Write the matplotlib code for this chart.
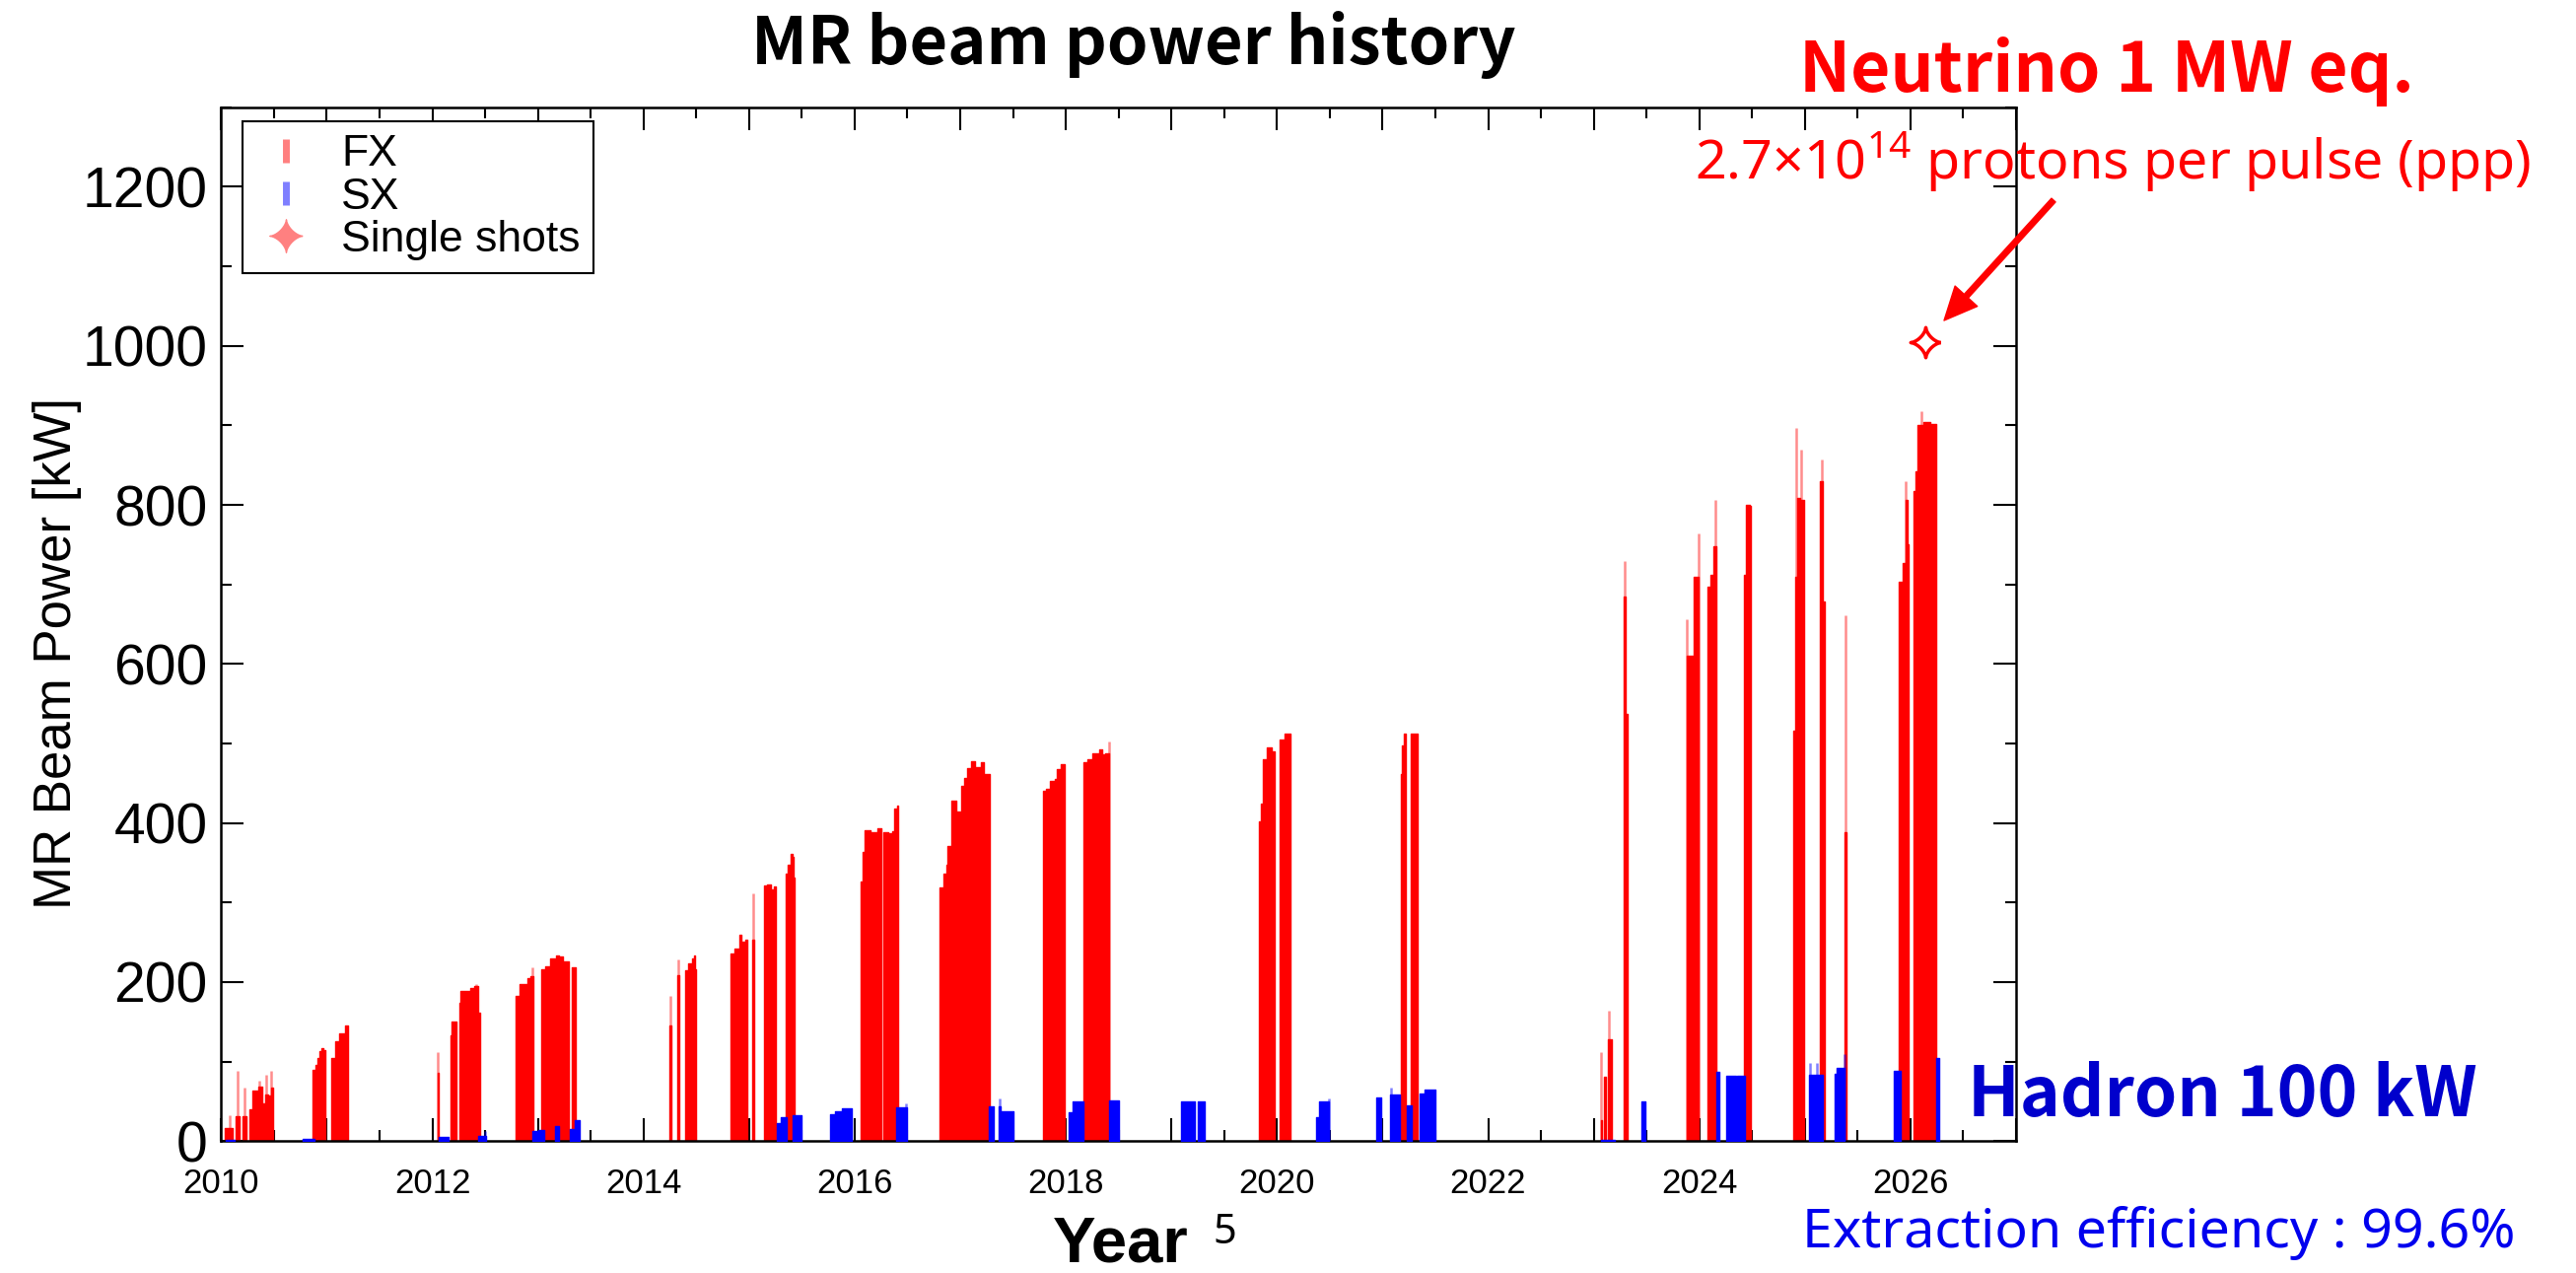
import matplotlib
matplotlib.use('Agg')
import matplotlib.pyplot as plt
from matplotlib.lines import Line2D
from matplotlib.ticker import MultipleLocator, FuncFormatter
import numpy as np

W, H = 2613, 1291

# FX runs: step edges [year] (last entry = end of run) and levels [kW]
fx_times = [
    [2010.038, 2010.110], [2010.140, 2010.172], [2010.200, 2010.240],
    [2010.270, 2010.300, 2010.350, 2010.385, 2010.420, 2010.445, 2010.460, 2010.475, 2010.490],
    [2010.868, 2010.893, 2010.909, 2010.931, 2010.949, 2010.971, 2010.987],
    [2011.043, 2011.080, 2011.117, 2011.173, 2011.198],
    [2012.050, 2012.062],
    [2012.169, 2012.184, 2012.231],
    [2012.256, 2012.269, 2012.356, 2012.400, 2012.434, 2012.449],
    [2012.791, 2012.822, 2012.900, 2012.931, 2012.953],
    [2013.034, 2013.071, 2013.118, 2013.160],
    [2013.168, 2013.200, 2013.240, 2013.289],
    [2013.320, 2013.358],
    [2014.248, 2014.263], [2014.316, 2014.341],
    [2014.394, 2014.425, 2014.456, 2014.478, 2014.490, 2014.497],
    [2014.829, 2014.860, 2014.907, 2014.923, 2014.969, 2014.985],
    [2015.032, 2015.047],
    [2015.140, 2015.172, 2015.203, 2015.234, 2015.250, 2015.256],
    [2015.343, 2015.365, 2015.390, 2015.411, 2015.420, 2015.430],
    [2016.058, 2016.074, 2016.090, 2016.152, 2016.214, 2016.257],
    [2016.276, 2016.323, 2016.354, 2016.376, 2016.401, 2016.416],
    [2016.805, 2016.842, 2016.867, 2016.883, 2016.914, 2016.967, 2016.998],
    [2017.007, 2017.039, 2017.070, 2017.101, 2017.140, 2017.195, 2017.226, 2017.282],
    [2017.780, 2017.811, 2017.848, 2017.895, 2017.917, 2017.957, 2017.988],
    [2018.165, 2018.205, 2018.252, 2018.314, 2018.345, 2018.375, 2018.414],
    [2019.830, 2019.846, 2019.865, 2019.902, 2019.949, 2019.980],
    [2020.026, 2020.072, 2020.126],
    [2021.172, 2021.187, 2021.200, 2021.225],
    [2021.265, 2021.333],
    [2023.067, 2023.075], [2023.100, 2023.112], [2023.130, 2023.169],
    [2023.284, 2023.300, 2023.325],
    [2023.879, 2023.900, 2023.947, 2023.994],
    [2024.078, 2024.110, 2024.130, 2024.166],
    [2024.421, 2024.446, 2024.478, 2024.492],
    [2024.891, 2024.913, 2024.928, 2024.959, 2024.990],
    [2025.146, 2025.170, 2025.186],
    [2025.373, 2025.398],
    [2025.892, 2025.923, 2025.955, 2025.977, 2025.986],
    [2026.032, 2026.047, 2026.063, 2026.125, 2026.187, 2026.241],
]
fx_power = [
    [17], [31], [31],
    [40, 64, 68, 47, 59, 57, 46, 67],
    [90, 96, 104, 113, 117, 114],
    [105, 125, 135, 145],
    [86],
    [133, 150],
    [174, 189, 193, 195, 161],
    [183, 197, 205, 208],
    [216, 220, 230],
    [234, 232, 226],
    [219],
    [145], [209],
    [215, 224, 230, 233, 216],
    [236, 242, 259, 251, 253],
    [253],
    [321, 323, 317, 320, 309],
    [336, 348, 361, 358, 331],
    [327, 364, 391, 389, 393],
    [389, 387, 390, 418, 422],
    [319, 336, 348, 371, 428, 414],
    [447, 457, 469, 478, 470, 476, 461],
    [441, 443, 453, 455, 468, 474],
    [476, 480, 488, 493, 486, 488],
    [402, 424, 480, 495, 490],
    [505, 513],
    [461, 498, 512],
    [512],
    [27], [81], [128],
    [685, 537],
    [610, 610, 709],
    [697, 712, 748],
    [712, 800, 799],
    [516, 709, 809, 806],
    [830, 678],
    [389],
    [703, 727, 806, 751],
    [818, 842, 900, 904, 902],
]
# isolated FX pulses above the daily level
fx_spike_t = [2010.085, 2010.160, 2010.220, 2010.360, 2010.425, 2010.478, 2012.056, 2012.420,
              2012.948, 2014.252, 2014.330, 2015.040, 2018.408, 2023.071, 2023.147, 2023.290,
              2023.882, 2023.990, 2024.150, 2024.922, 2024.965, 2025.160, 2025.385, 2025.955,
              2026.100]
fx_spike_p = [32, 89, 67, 76, 83, 89, 112, 198,
              218, 183, 228, 311, 503, 112, 164, 730,
              656, 764, 806, 897, 869, 857, 661, 830,
              918]

# SX runs
sx_times = [
    [2010.040, 2010.130], [2010.775, 2010.884],
    [2012.060, 2012.150], [2012.430, 2012.505],
    [2012.947, 2012.994], [2013.003, 2013.056], [2013.167, 2013.204],
    [2013.305, 2013.336], [2013.351, 2013.398],
    [2015.265, 2015.300, 2015.358], [2015.411, 2015.498],
    [2015.772, 2015.810, 2015.880, 2015.974],
    [2016.394, 2016.500],
    [2017.272, 2017.320], [2017.366, 2017.380, 2017.506],
    [2018.029, 2018.060, 2018.165], [2018.408, 2018.502],
    [2019.092, 2019.223], [2019.248, 2019.320],
    [2020.368, 2020.400, 2020.493],
    [2020.938, 2020.991], [2021.075, 2021.169], [2021.231, 2021.281],
    [2021.349, 2021.400, 2021.505],
    [2023.070, 2023.200], [2023.449, 2023.490],
    [2024.166, 2024.190], [2024.259, 2024.345], [2024.360, 2024.430],
    [2025.037, 2025.167], [2025.286, 2025.300, 2025.379],
    [2025.846, 2025.908], [2026.244, 2026.275],
]
sx_power = [
    [1], [3],
    [5], [6],
    [13], [14], [19],
    [15], [26],
    [23, 30], [33],
    [34, 38, 41],
    [42],
    [44], [44, 37],
    [36, 50], [51],
    [50], [50],
    [30, 50],
    [55], [59], [45],
    [60, 65],
    [1], [50],
    [87], [82], [82],
    [83], [85, 92],
    [89], [104],
]
sx_spike_t = [2012.500, 2016.490, 2017.370, 2020.490, 2021.078, 2025.050, 2025.110, 2025.375]
sx_spike_p = [13, 47, 54, 54, 67, 98, 98, 110]

single_shot_t = [2026.138]
single_shot_p = [1005]

fig = plt.figure(figsize=(W / 100, H / 100), dpi=100)
ax = fig.add_axes([224.3 / W, 1 - 1157.3 / H, (2045 - 224.3) / W, (1157.3 - 108.8) / H])

for t, p in zip(fx_times, fx_power):
    ax.fill_between(t, 0, p + [p[-1]], step='post', color='red', lw=1.0, zorder=2)
ax.vlines(fx_spike_t, 0, fx_spike_p, color='red', alpha=0.45, lw=1.8, zorder=1)

for t, p in zip(sx_times, sx_power):
    ax.fill_between(t, 0, p + [p[-1]], step='post', color='blue', lw=1.0, zorder=3)
ax.vlines(sx_spike_t, 0, sx_spike_p, color='blue', alpha=0.5, lw=1.8, zorder=3)

# four-pointed star (astroid) marker
th = np.linspace(0, 2 * np.pi, 81)
star = np.column_stack([np.cos(th) ** 3, np.sin(th) ** 3])
ax.plot(single_shot_t, single_shot_p, ls='none', marker=star, ms=22, mfc='white',
        mec='red', mew=2.5, zorder=5, clip_on=False)

ax.set_xlim(2010, 2027)
ax.set_ylim(0, 1300)
ax.xaxis.set_major_locator(MultipleLocator(1))
ax.xaxis.set_minor_locator(MultipleLocator(0.5))
ax.xaxis.set_major_formatter(FuncFormatter(lambda v, pos: '%d' % round(v) if round(v) % 2 == 0 else ''))
ax.yaxis.set_major_locator(MultipleLocator(200))
ax.yaxis.set_minor_locator(MultipleLocator(100))
ax.tick_params(which='both', direction='in', top=True, right=True, width=1.5)
ax.tick_params(which='major', length=16.5)
ax.tick_params(which='minor', length=8)
ax.tick_params(axis='x', pad=19, labelsize=25)
ax.tick_params(axis='y', pad=10, labelsize=41)
for lab in ax.get_xticklabels() + ax.get_yticklabels():
    lab.set_family('Liberation Sans')
for s in ax.spines.values():
    s.set_linewidth(1.8)

handles = [
    Line2D([], [], ls='none', marker='|', ms=17, mew=5, color=(1, 0, 0, 0.5)),
    Line2D([], [], ls='none', marker='|', ms=17, mew=5, color=(0, 0, 1, 0.5)),
    Line2D([], [], ls='none', marker=star, ms=24, mfc=(1, 0.5, 0.5), mec=(1, 0.5, 0.5)),
]
leg = fig.legend(handles, ['FX', 'SX', 'Single shots'], loc='upper left',
                 bbox_to_anchor=(246 / W, 1 - 123 / H), borderaxespad=0,
                 prop={'family': 'Liberation Sans', 'size': 32}, fancybox=False,
                 edgecolor='black', framealpha=1, borderpad=0.3, labelspacing=0.05,
                 handlelength=1.4, handletextpad=0.55)
leg.get_frame().set_linewidth(1.5)

sans = ['Noto Sans', 'DejaVu Sans']
cjk = ['Noto Sans CJK JP', 'DejaVu Sans']
plt.rcParams['mathtext.fontset'] = 'custom'
plt.rcParams['mathtext.rm'] = 'Noto Sans'


def ftext(x, y, s, **kw):
    return fig.text(x / W, 1 - y / H, s, **kw)


ftext(1150, 65, 'MR beam power history', ha='center', va='baseline', size=48,
      weight='bold', family=cjk)
ftext(58, 662, 'MR Beam Power [kW]', ha='center', va='center', rotation=90, size=38,
      family='Liberation Sans')
ftext(1137, 1279, 'Year', ha='center', va='baseline', size=47, weight='bold',
      family='Liberation Sans')
ftext(1242, 1261, '5', ha='center', va='baseline', size=30, family=sans)
ftext(2137, 93, 'Neutrino 1 MW eq.', ha='center', va='baseline', size=50,
      weight='bold', family=cjk, color='red')
ftext(2143, 182, r'2.7×10$^{\mathrm{14}}$ protons per pulse (ppp)', ha='center',
      va='baseline', size=40, family=sans, color='red')
ftext(2254, 1132, 'Hadron 100 kW', ha='center', va='baseline', size=50,
      weight='bold', family=cjk, color='#0000cc')
ftext(2190, 1265, 'Extraction efficiency : 99.6%', ha='center', va='baseline', size=40,
      family=sans, color='#0000ee')

ax.annotate('', xy=(1972 / W, 1 - 325 / H), xycoords='figure fraction',
            xytext=(2083 / W, 1 - 203 / H), textcoords='figure fraction',
            arrowprops=dict(facecolor='red', edgecolor='red', width=4, headwidth=22,
                            headlength=24))

fig.savefig('out.png', dpi=100)
